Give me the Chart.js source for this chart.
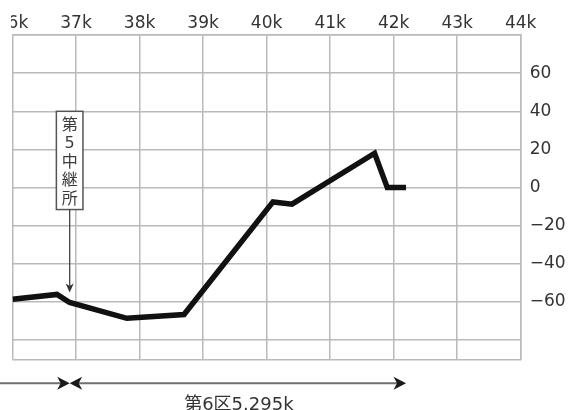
<!DOCTYPE html>
<html>
<head>
<meta charset="utf-8">
<script src="https://cdn.jsdelivr.net/npm/chart.js@4/dist/chart.umd.min.js"></script>
<style>
  html, body { margin: 0; padding: 0; background: #fff; }
  #wrap { position: relative; width: 568px; height: 410px; overflow: hidden; }
  #elev { position: absolute; left: -30px; top: 0; }
  /* the reference is cropped through the first top label */
  #crop { position: absolute; left: 0; top: 0; width: 11px; height: 33px; background: #fff; }
</style>
</head>
<body>
<div id="wrap">
  <canvas id="elev" width="598" height="410"></canvas>
  <div id="crop"></div>
</div>
<script>
// Course profile (distance in km, relative height)
const distKm = [36.0, 36.7, 36.9, 37.8, 38.7, 40.1, 40.4, 41.7, 41.9, 42.195];
const height = [-58.5, -56, -60.2, -68.5, -66.5, -7.5, -8.7, 18, 0, 0];

// Axis ticks
const xTickValues = [36, 37, 38, 39, 40, 41, 42, 43, 44];
const xTickLabels = ['36k', '37k', '38k', '39k', '40k', '41k', '42k', '43k', '44k'];
const yTickValues = [-90, -80, -60, -40, -20, 0, 20, 40, 60, 80];
const yLabelled = [-60, -40, -20, 0, 20, 40, 60];

// Annotations
const relayKm = 36.9;
const relayLabel = ['第', '5', '中', '継', '所'];
const finishKm = 42.195;
const sectionLabel = '第6区5.295k';

const FONT = '"DejaVu Sans", "Noto Sans CJK JP", sans-serif';
const GRID = '#bababa';

// Draw an arrow head with its tip at (tx, ty)
function arrowHead(ctx, tx, ty, angle, len, half) {
    ctx.save();
    ctx.translate(tx, ty);
    ctx.rotate(angle);
    ctx.beginPath();
    ctx.moveTo(0, 0);
    ctx.lineTo(-len, -half);
    ctx.lineTo(-len * 0.72, 0);
    ctx.lineTo(-len, half);
    ctx.closePath();
    ctx.fill();
    ctx.restore();
}

const annotationPlugin = {
    id: 'annotations',
    afterDatasetsDraw(chart) {
        const ctx = chart.ctx;
        const xs = chart.scales.x;
        const ys = chart.scales.y;
        const area = chart.chartArea;
        const rx = xs.getPixelForValue(relayKm);

        // relay station box
        const top = ys.getPixelForValue(40);
        const bottom = ys.getPixelForValue(-11.5);
        const tip = ys.getPixelForValue(-55);
        ctx.save();
        ctx.fillStyle = '#fff';
        ctx.strokeStyle = '#555';
        ctx.lineWidth = 1.5;
        ctx.fillRect(rx - 13.3, top, 26.6, bottom - top);
        ctx.strokeRect(rx - 13.3, top, 26.6, bottom - top);

        ctx.fillStyle = '#3c3c3c';
        ctx.font = '16px ' + FONT;
        ctx.textAlign = 'center';
        ctx.textBaseline = 'middle';
        relayLabel.forEach(function(ch, i) {
            ctx.fillText(ch, rx, top + 14.5 + i * 18.5);
        });

        // arrow down to the course line
        ctx.strokeStyle = '#444';
        ctx.lineWidth = 1.3;
        ctx.beginPath();
        ctx.moveTo(rx, bottom);
        ctx.lineTo(rx, tip - 6);
        ctx.stroke();
        ctx.fillStyle = '#333';
        arrowHead(ctx, rx, tip, Math.PI / 2, 9, 4);

        // section arrows below the chart
        const ay = area.bottom + 24;
        const fx = xs.getPixelForValue(finishKm);
        ctx.strokeStyle = '#707070';
        ctx.lineWidth = 2;
        ctx.beginPath();
        ctx.moveTo(0, ay);
        ctx.lineTo(rx - 6, ay);
        ctx.moveTo(rx + 6, ay);
        ctx.lineTo(fx - 6, ay);
        ctx.stroke();
        ctx.fillStyle = '#1a1a1a';
        arrowHead(ctx, rx, ay, 0, 12.5, 6.5);
        arrowHead(ctx, rx, ay, Math.PI, 12.5, 6.5);
        arrowHead(ctx, fx, ay, 0, 12.5, 6.5);

        ctx.fillStyle = '#333';
        ctx.font = '18px ' + FONT;
        ctx.textAlign = 'center';
        ctx.textBaseline = 'alphabetic';
        ctx.fillText(sectionLabel, (rx + fx) / 2 + 1, ay + 27);
        ctx.restore();
    }
};

const chart = new Chart(document.getElementById('elev').getContext('2d'), {
    type: 'line',
    data: {
        datasets: [{
            data: distKm.map(function(d, i) { return { x: d, y: height[i] }; }),
            borderColor: '#111',
            borderWidth: 5.5,
            pointRadius: 0,
            tension: 0,
            fill: false
        }]
    },
    options: {
        responsive: false,
        animation: false,
        layout: { padding: { left: 42.5, right: 0, top: 0, bottom: 50.7 } },
        plugins: {
            legend: { display: false },
            tooltip: { enabled: false }
        },
        scales: {
            x: {
                type: 'linear',
                position: 'top',
                min: 36,
                max: 44,
                afterBuildTicks: function(scale) {
                    scale.ticks = xTickValues.map(function(v) { return { value: v }; });
                },
                afterFit: function(scale) { scale.height = 35; },
                grid: { color: GRID, lineWidth: 1.5, drawTicks: false },
                border: { display: true, color: GRID, width: 1.5 },
                ticks: {
                    padding: 1,
                    color: '#333',
                    font: { family: FONT, size: 17 },
                    maxRotation: 0,
                    autoSkip: false,
                    callback: function(v) {
                        const i = xTickValues.indexOf(v);
                        return i >= 0 ? xTickLabels[i] : '';
                    }
                }
            },
            y: {
                type: 'linear',
                position: 'right',
                min: -90,
                max: 80,
                afterBuildTicks: function(scale) {
                    scale.ticks = yTickValues.map(function(v) { return { value: v }; });
                },
                afterFit: function(scale) { scale.width = 47.3; },
                grid: { color: GRID, lineWidth: 1.5, drawTicks: false },
                border: { display: true, color: GRID, width: 1.5 },
                ticks: {
                    padding: 9,
                    color: '#333',
                    font: { family: FONT, size: 17 },
                    autoSkip: false,
                    callback: function(v) {
                        if (yLabelled.indexOf(v) < 0) return '';
                        return v < 0 ? '\u2212' + Math.abs(v) : String(v);
                    }
                }
            }
        }
    },
    plugins: [annotationPlugin]
});
</script>
</body>
</html>
